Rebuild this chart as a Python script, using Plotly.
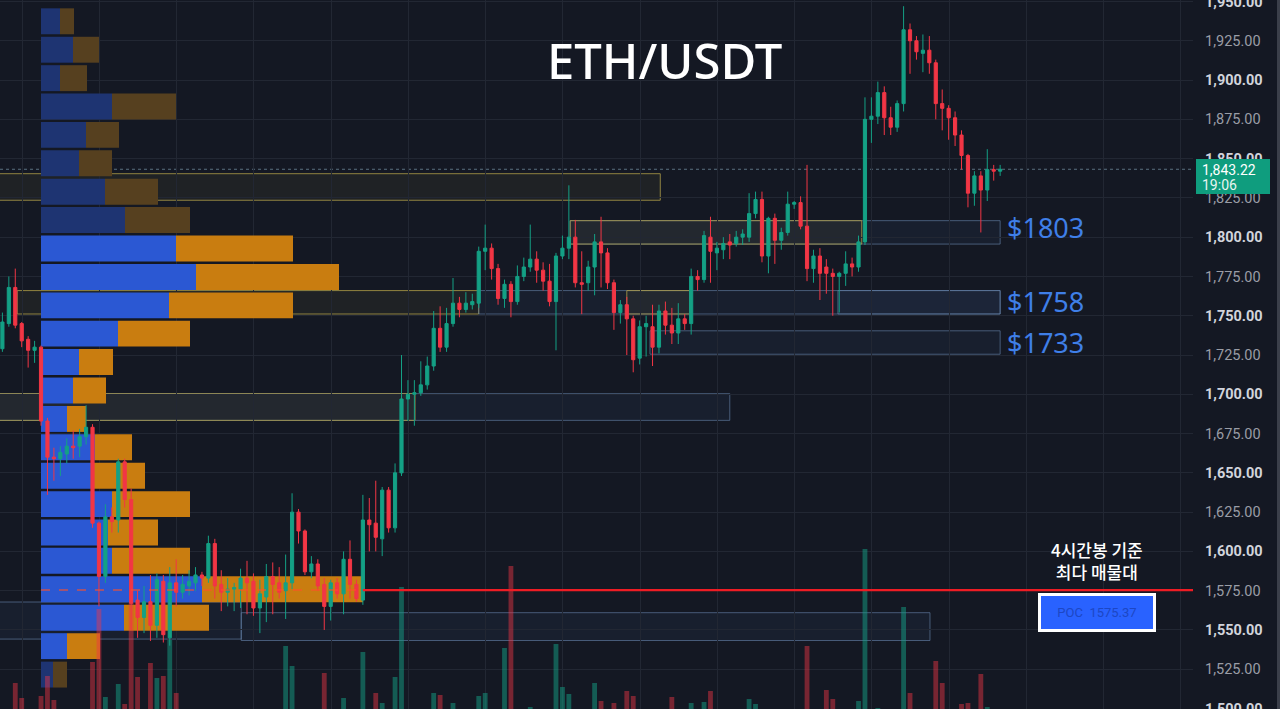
import plotly.graph_objects as go

# ---------------- candle data (4h ETH/USDT) ----------------
open_ = [1729,1745,1768,1745,1735,1728,1730,1683,1660,1659,1662,1667,1667,1673,1679,1618,1584,1622,1620,1657,
         1633,1569,1558,1568,1553,1581,1545,1580,1574,1578,1580,1585,1583,1605,1579,1574,1576,1576,1583,1581,
         1564,1571,1584,1580,1575,1580,1625,1613,1587,1592,1579,1565,1580,1573,1595,1579,1569,1620,1618,1608,
         1639,1615,1650,1697,1700,1701,1706,1718,1742,1730,1745,1758,1754,1757,1758,1791,1793,1780,1761,1770,
         1759,1775,1781,1786,1779,1772,1759,1788,1793,1800,1771,1771,1781,1797,1790,1771,1752,1757,1748,1723,
         1743,1743,1730,1753,1744,1739,1748,1745,1775,1773,1800,1790,1792,1797,1796,1800,1800,1815,1824,1788,
         1812,1798,1803,1821,1822,1807,1780,1788,1781,1777,1775,1777,1783,1781,1797,1875,1877,1892,1876,1870,
         1885,1932,1925,1917,1919,1911,1885,1882,1876,1865,1852,1828,1839,1830,1843,1842]
high = [1752,1775,1780,1746,1737,1734,1731,1685,1666,1667,1672,1677,1678,1693,1681,1619,1630,1628,1659,1659,
        1640,1575,1578,1585,1586,1585,1590,1595,1585,1588,1590,1587,1610,1608,1588,1583,1580,1589,1594,1586,
        1582,1592,1593,1590,1598,1637,1627,1614,1597,1595,1583,1582,1583,1600,1607,1582,1636,1634,1645,1641,
        1641,1656,1725,1709,1709,1721,1724,1753,1756,1755,1774,1762,1765,1764,1794,1808,1796,1783,1773,1772,
        1782,1787,1808,1791,1784,1783,1790,1801,1833,1811,1791,1785,1802,1813,1793,1773,1760,1762,1750,1747,
        1750,1757,1757,1759,1755,1758,1751,1780,1779,1804,1813,1797,1800,1802,1804,1805,1828,1829,1829,1813,
        1815,1806,1829,1823,1826,1846,1792,1793,1786,1780,1778,1791,1787,1801,1889,1889,1899,1896,1883,1887,
        1947,1936,1928,1929,1928,1913,1894,1884,1880,1868,1853,1842,1842,1856,1846,1846]
low = [1727,1743,1742,1730,1717,1720,1680,1636,1645,1648,1656,1659,1660,1668,1615,1565,1580,1612,1612,1628,
       1550,1545,1548,1543,1545,1542,1540,1565,1570,1572,1575,1578,1580,1570,1562,1565,1562,1564,1560,1559,
       1548,1555,1560,1570,1557,1576,1605,1585,1583,1575,1550,1556,1570,1560,1570,1568,1566,1600,1600,1597,
       1612,1612,1648,1683,1680,1699,1703,1715,1727,1727,1743,1749,1752,1754,1755,1779,1773,1757,1755,1749,
       1757,1772,1778,1771,1766,1756,1728,1786,1786,1768,1751,1766,1763,1768,1767,1741,1745,1725,1714,1719,
       1724,1718,1726,1738,1732,1732,1741,1738,1766,1771,1771,1779,1786,1786,1794,1795,1797,1812,1784,1777,
       1783,1792,1801,1818,1805,1772,1771,1760,1764,1750,1752,1769,1775,1778,1795,1860,1872,1865,1865,1867,
       1880,1904,1913,1905,1904,1875,1868,1862,1858,1843,1819,1820,1803,1823,1836,1839]
close = [1746,1768,1744,1734,1728,1730,1683,1660,1659,1663,1667,1666,1673,1679,1618,1584,1622,1619,1657,1633,
         1567,1558,1568,1553,1582,1547,1580,1574,1579,1581,1585,1583,1605,1578,1574,1576,1577,1583,1580,1564,
         1573,1584,1579,1574,1580,1625,1613,1587,1592,1578,1565,1580,1573,1595,1579,1570,1620,1617,1609,1639,
         1615,1650,1697,1700,1701,1706,1718,1742,1730,1745,1758,1754,1758,1759,1791,1793,1780,1761,1770,1759,
         1775,1781,1786,1779,1772,1759,1788,1793,1800,1771,1770,1781,1797,1790,1771,1752,1757,1748,1722,1743,
         1745,1730,1753,1744,1739,1748,1745,1775,1773,1801,1791,1793,1796,1795,1800,1802,1815,1824,1788,1812,
         1798,1803,1821,1822,1807,1780,1788,1777,1777,1775,1777,1783,1781,1797,1875,1877,1892,1876,1870,1885,
         1932,1925,1918,1919,1911,1885,1882,1876,1865,1852,1828,1839,1830,1843,1842,1843.22]
# volume (K ETH) - only the tallest bars rise into view
volume = [16,18,22.6,21.1,17,12,21.3,23.3,20.9,15,14,13,16,18,24.7,30.0,21.2,17,22.5,20.5,
          30.6,23.2,19,24.6,23.1,23.3,26.9,21.6,14,12,13,11,19,18,15,12,11,13,16,17,
          15,18,14,13,26.3,24.3,19,18,12,16,23.6,19,13,21.1,19,14,25.7,18,21.6,20.6,
          17,23.2,32.2,18,15,16,17,21.6,21.4,19,20.6,13,12,11,21.3,21.6,18,19,26.1,34.3,
          17,15,20.2,16,14,18,26.5,22.2,21.5,19,17,15,22.6,20.8,19,20.6,14,21.8,21.3,18,
          13,19,17,15,21.2,16,12,20.6,14,20.7,21.8,13,12,11,13,14,21.0,20.5,19,18,
          16,12,17,10,15,26.3,17,19,21.9,21.0,16,18,13,20.8,36.0,19,20.1,18,15,17,
          30.2,21.6,16,14,18,24.8,22.6,19,18,20.5,20.6,17,23.5,20.2,14,9]
idx = list(range(len(close)))

# ---------------- volume profile (4h) ----------------
vp_price = [1937.4,1919.3,1901.2,1883.2,1865.1,1847.0,1828.9,1810.9,1792.8,1774.7,1756.6,1738.6,
            1720.5,1702.4,1684.3,1666.3,1648.2,1630.1,1612.0,1594.0,1575.9,1557.8,1539.7,1521.6]
vp_buy = [9.5,16,9.5,35.5,22.5,19,32,42,67.5,77.5,64,38.5,19,16,13,27,25.5,35.5,33.5,35.5,80.5,41.5,13,6]
vp_sell = [7,13,13.5,32,16.5,16.5,26.5,32.5,58.5,71.5,62,36,17,16.5,9.5,18.5,26.5,39,25,39,80.5,42.5,16.5,7]
vp_value_area = [False]*8 + [True]*15 + [False]
poc_price = 1575.37
last_price = 1843.22

# ---------------- zones: (price low, price high, from candle, to candle, kind) ----------------
zones = [
    (1683.4, 1700.4, -1, 113.0, "blue"),
    (1683.4, 1700.4, -1, 64.1, "yellow"),
    (1823.5, 1840.4, -1, 102.2, "yellow"),
    (1751.1, 1766.0, 2.3, 74.0, "yellow"),
    (1751.1, 1766.0, 74.0, 155.0, "blue"),
    (1751.1, 1766.0, 97.0, 106.8, "yellow"),
    (1751.1, 1766.0, 129.8, 155.0, "blue"),
    (1795.6, 1810.5, 88.2, 155.0, "blue"),
    (1795.6, 1810.5, 88.2, 133.5, "yellow"),
    (1725.5, 1740.4, 100.6, 155.0, "blue"),
    (1544.2, 1567.8, -1, 37.1, "blue"),
    (1543.3, 1561.0, 37.1, 144.1, "blue"),
]
level_labels = ["$1803", "$1758", "$1733"]
level_prices = [1803, 1758.5, 1733]
label_shift_px = [5, 1, 0]
price_ticks = list(range(1500, 1951, 25))

BG = "#141823"
GRID = "#222733"
UP = "#14a085"
DN = "#f23645"

fig = go.Figure()

# volume profile (base subplot x / y)
blue = ["#2b58d3" if va else "#1e3472" for va in vp_value_area]
orange = ["#c97d10" if va else "#56401f" for va in vp_value_area]
fig.add_trace(go.Bar(y=vp_price, x=vp_buy, base=[0]*len(vp_buy), orientation="h", width=16.5,
                     marker=dict(color=blue, line=dict(width=0)), xaxis="x", yaxis="y", hoverinfo="skip"))
fig.add_trace(go.Bar(y=vp_price, x=vp_sell, base=vp_buy, orientation="h", width=16.5,
                     marker=dict(color=orange, line=dict(width=0)), xaxis="x", yaxis="y", hoverinfo="skip"))

# candles
fig.add_trace(go.Candlestick(x=idx, open=open_, high=high, low=low, close=close,
                             increasing=dict(line=dict(color=UP, width=1), fillcolor=UP),
                             decreasing=dict(line=dict(color=DN, width=1), fillcolor=DN),
                             whiskerwidth=0, xaxis="x2", yaxis="y", hoverinfo="skip"))

# volume bars
up_i = [i for i in idx if close[i] >= open_[i]]
dn_i = [i for i in idx if close[i] < open_[i]]
fig.add_trace(go.Bar(x=up_i, y=[volume[i] for i in up_i], width=0.75, marker=dict(color="rgba(20,160,133,0.5)", line=dict(width=0)),
                     xaxis="x2", yaxis="y2", hoverinfo="skip"))
fig.add_trace(go.Bar(x=dn_i, y=[volume[i] for i in dn_i], width=0.75, marker=dict(color="rgba(242,54,69,0.45)", line=dict(width=0)),
                     xaxis="x2", yaxis="y2", hoverinfo="skip"))

shapes = []
for lo, hi, a, b, kind in zones:
    if kind == "yellow":
        fill, line = "rgba(160,150,70,0.08)", "rgba(185,165,75,0.75)"
    else:
        fill, line = "rgba(70,100,150,0.10)", "rgba(105,135,175,0.6)"
    shapes.append(dict(type="rect", xref="x2", yref="y", x0=a, x1=b, y0=lo, y1=hi,
                       fillcolor=fill, line=dict(color=line, width=1), layer="below"))
# last price dotted line
shapes.append(dict(type="line", xref="paper", yref="y", x0=0, x1=1, y0=last_price, y1=last_price,
                   line=dict(color="rgba(120,150,170,0.7)", width=1, dash="dot"), layer="below"))
# POC lines
shapes.append(dict(type="line", xref="x", yref="y", x0=0, x1=vp_buy[20] + vp_sell[20], y0=poc_price, y1=poc_price,
                   line=dict(color="rgba(255,80,40,0.75)", width=1.5, dash="dash"), layer="above"))
shapes.append(dict(type="line", xref="x2", yref="y", x0=56.0, x1=185, y0=poc_price, y1=poc_price,
                   line=dict(color="#ee1c24", width=2.2), layer="above"))
# last price tag
PW = 1193.0
shapes.append(dict(type="rect", xref="paper", yref="paper", x0=1196/PW, x1=1270/PW, y0=1-194/709, y1=1-159/709,
                   fillcolor="#0f9d7e", line=dict(width=0), layer="above"))
# right border
shapes.append(dict(type="line", xref="paper", yref="paper", x0=1278.5/PW, x1=1278.5/PW, y0=0, y1=1,
                   line=dict(color="#3b3f4a", width=3), layer="above"))

annotations = [
    dict(text="ETH/USDT", xref="paper", yref="paper", x=664/PW, y=1-60/709, showarrow=False,
         font=dict(family="Noto Sans", size=49, color="#ffffff", weight=500), xanchor="center", yanchor="middle"),
    dict(text="1,843.22", xref="paper", yref="paper", x=1200/PW, y=1-170/709, showarrow=False,
         font=dict(family="Roboto", size=14, color="#ffffff"), xanchor="left", yanchor="middle"),
    dict(text="19:06", xref="paper", yref="paper", x=1200/PW, y=1-185/709, showarrow=False,
         font=dict(family="Roboto", size=14, color="#e8f5f1"), xanchor="left", yanchor="middle"),
    dict(text="4시간봉 기준<br>최다 매물대", xref="paper", yref="paper", x=1097/PW, y=1-560/709, showarrow=False,
         font=dict(family="Noto Sans CJK KR", size=17, color="#ffffff", weight=500), xanchor="center", yanchor="middle"),
    dict(text="POC  1575.37", xref="paper", yref="paper", x=1096.5/PW, y=1-612.5/709, showarrow=False,
         font=dict(family="Roboto", size=13, color="#1d47c4"), bgcolor="#2962ff", bordercolor="#ffffff",
         borderwidth=3, borderpad=4, width=104, height=25, xanchor="center", yanchor="middle"),
]
for txt, p, sh in zip(level_labels, level_prices, label_shift_px):
    annotations.append(dict(text=txt, xref="x2", yref="y", x=155.8, y=p, yshift=sh, showarrow=False, xanchor="left",
                            yanchor="middle", font=dict(family="Noto Sans", size=27, color="#3f7fe8")))

ticktext = []
for v in price_ticks:
    s = f"{v:,.2f}"
    ticktext.append(f"<b>{s}</b>" if v % 50 == 0 else f"<span style='color:#9a9da6'>{s}</span>")

fig.update_layout(
    width=1280, height=709, margin=dict(l=0, r=87, t=0, b=0, autoexpand=False),
    paper_bgcolor=BG, plot_bgcolor=BG, showlegend=False, barmode="overlay",
    shapes=shapes, annotations=annotations,
    xaxis=dict(range=[-20.5, 576], visible=False, fixedrange=True, rangeslider=dict(visible=False),
               automargin=False),
    xaxis2=dict(range=[-0.373, 184.96], overlaying="x", showgrid=True, gridcolor=GRID, gridwidth=1,
                tick0=3.08, dtick=12, showticklabels=False, zeroline=False, showline=False, ticks="",
                rangeslider=dict(visible=False), automargin=False),
    yaxis=dict(range=[1499.7, 1950.95], side="right", tickvals=price_ticks, ticktext=ticktext,
               showgrid=True, gridcolor=GRID, zeroline=False, showline=False, ticks="",
               tickfont=dict(family="Roboto", size=14.5, color="#d1d4dc"), ticklabelstandoff=11,
               ticklabeloverflow="allow", automargin=False),
    yaxis2=dict(range=[20, 90.9], overlaying="y", visible=False, automargin=False),
)

fig.write_html("out.html")
